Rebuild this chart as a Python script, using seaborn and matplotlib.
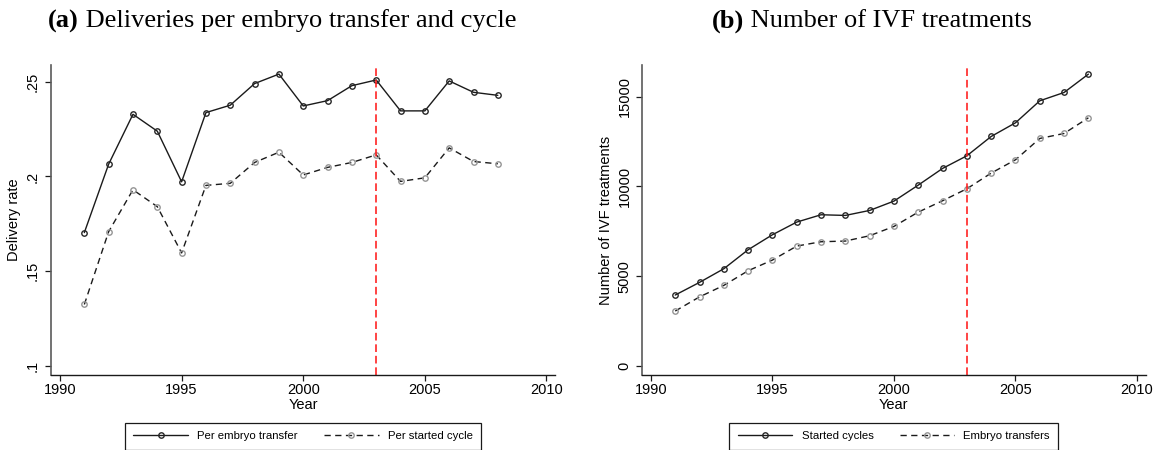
import numpy as np
import pandas as pd
import matplotlib
matplotlib.use("Agg")
import matplotlib.pyplot as plt
import seaborn as sns
from matplotlib.ticker import FixedLocator

# ---------------- data ----------------
years = list(range(1991, 2009))
per_embryo_transfer = [0.1704, 0.2065, 0.2328, 0.2239, 0.1972, 0.2337, 0.2376, 0.2490, 0.2540,
                       0.2372, 0.2400, 0.2479, 0.2509, 0.2346, 0.2346, 0.2504, 0.2444, 0.2428]
per_started_cycle = [0.1325, 0.1709, 0.1930, 0.1841, 0.1597, 0.1953, 0.1964, 0.2074, 0.2128,
                     0.2008, 0.2048, 0.2074, 0.2114, 0.1974, 0.1993, 0.2151, 0.2079, 0.2067]
started_cycles = [3953, 4658, 5418, 6476, 7311, 8016, 8424, 8387, 8665,
                  9185, 10076, 11004, 11709, 12785, 13546, 14771, 15235, 16256]
embryo_transfers = [3062, 3850, 4491, 5307, 5901, 6680, 6921, 6959, 7256,
                    7775, 8573, 9204, 9872, 10744, 11487, 12674, 12952, 13825]
policy_year = 2003

x_ticks = [1990, 1995, 2000, 2005, 2010]
left_yticks = [0.10, 0.15, 0.20, 0.25]
left_yticklabels = [".1", ".15", ".2", ".25"]
right_yticks = [0, 5000, 10000, 15000]
right_yticklabels = ["0", "5000", "10000", "15000"]

title_a = ("(a)", " Deliveries per embryo transfer and cycle")
title_b = ("(b)", " Number of IVF treatments")
left_labels = ["Per embryo transfer", "Per started cycle"]
right_labels = ["Started cycles", "Embryo transfers"]

# ---------------- style ----------------
sns.set_style("white")
plt.rcParams["font.family"] = ["Liberation Sans", "DejaVu Sans"]
plt.rcParams["axes.unicode_minus"] = False
plt.rcParams["text.color"] = "black"
plt.rcParams["axes.labelcolor"] = "black"
plt.rcParams["xtick.color"] = "black"
plt.rcParams["ytick.color"] = "black"

W, H = 1162, 450
fig = plt.figure(figsize=(W / 100, H / 100), dpi=100)

def px_axes(x0, x1, y0, y1):
    return fig.add_axes([x0 / W, 1 - y1 / H, (x1 - x0) / W, (y1 - y0) / H])

axL = px_axes(51, 555, 65, 375)
axR = px_axes(641.7, 1146, 65, 375)

solid_kw = dict(color="#1a1a1a", linewidth=1.0, linestyle="-", marker="o",
                markersize=3.9, markerfacecolor="none", markeredgecolor="#262626",
                markeredgewidth=1.0)
dash_kw = dict(color="#1a1a1a", linewidth=1.0, linestyle=(0, (4.5, 3.2)), marker="o",
               markersize=3.9, markerfacecolor="none", markeredgecolor="#959595",
               markeredgewidth=1.0)

def draw_panel(ax, s1, s2, labels, yticks, yticklabels, ylabel, xlim, ylim, ypad):
    sns.lineplot(x=years, y=s1, ax=ax, label=labels[0], **solid_kw)
    sns.lineplot(x=years, y=s2, ax=ax, label=labels[1], **dash_kw)
    ax.axvline(policy_year, color="#ff1a1a", linewidth=1.15, linestyle=(0, (4.8, 2.4)))
    ax.set_xlim(*xlim)
    ax.set_ylim(*ylim)
    ax.xaxis.set_major_locator(FixedLocator(x_ticks))
    ax.yaxis.set_major_locator(FixedLocator(yticks))
    ax.set_yticklabels(yticklabels)
    ax.set_xticklabels([str(t) for t in x_ticks])
    for s in ["top", "right"]:
        ax.spines[s].set_visible(False)
    ax.spines["left"].set_color("#5a5a5a")
    ax.spines["left"].set_linewidth(1.2)
    ax.spines["bottom"].set_color("#1a1a1a")
    ax.spines["bottom"].set_linewidth(1.0)
    ax.tick_params(axis="x", direction="out", length=4.5, width=0.9, color="#1a1a1a",
                   labelcolor="black", labelsize=10.5, pad=1.5, bottom=True)
    ax.tick_params(axis="y", direction="out", length=4.5, width=0.9, color="#1a1a1a",
                   labelcolor="black", labelsize=10.5, pad=ypad, left=True, labelrotation=90)
    for lab in ax.get_yticklabels():
        lab.set_va("center")
        lab.set_ha("right")
    ax.set_xlabel("Year", fontsize=10.5, labelpad=0.3, color="black")
    ax.set_ylabel(ylabel, fontsize=10.5, labelpad=3.0, color="black")
    ax.grid(False)
    leg = ax.legend(loc="center", bbox_to_anchor=(0.5, -0.197), ncol=2, fontsize=8.2,
                    frameon=True, fancybox=False, edgecolor="#1a1a1a", framealpha=1,
                    handlelength=4.8, handletextpad=0.8, columnspacing=2.3,
                    borderpad=0.75, borderaxespad=0)
    leg.get_frame().set_linewidth(0.9)
    for t in leg.get_texts():
        t.set_color("black")

draw_panel(axL, per_embryo_transfer, per_started_cycle, left_labels, left_yticks,
           left_yticklabels, "Delivery rate", (1989.63, 2010.35), (0.0953, 0.2588), 4.0)
draw_panel(axR, started_cycles, embryo_transfers, right_labels, right_yticks,
           right_yticklabels, "Number of IVF treatments", (1989.62, 2010.37), (-501, 16765), 2.8)

# ---------------- titles (bold tag + regular text, centred as a group) ----------------
def panel_title(cx_px, cy_px, parts):
    t1 = fig.text(0, 1 - cy_px / H, parts[0], fontsize=19, fontweight="bold", color="black",
                  family=["Liberation Serif", "DejaVu Serif"], va="center", ha="left")
    t2 = fig.text(0, 1 - cy_px / H, parts[1], fontsize=19, color="black",
                  family=["Liberation Serif", "DejaVu Serif"], va="center", ha="left")
    fig.canvas.draw()
    r = fig.canvas.get_renderer()
    w1 = t1.get_window_extent(r).width
    w2 = t2.get_window_extent(r).width
    x0 = cx_px - (w1 + w2) / 2
    t1.set_x(x0 / W)
    t2.set_x((x0 + w1) / W)

panel_title(282, 21, title_a)
panel_title(872, 21, title_b)

fig.savefig("out.png", dpi=100, facecolor="white")
